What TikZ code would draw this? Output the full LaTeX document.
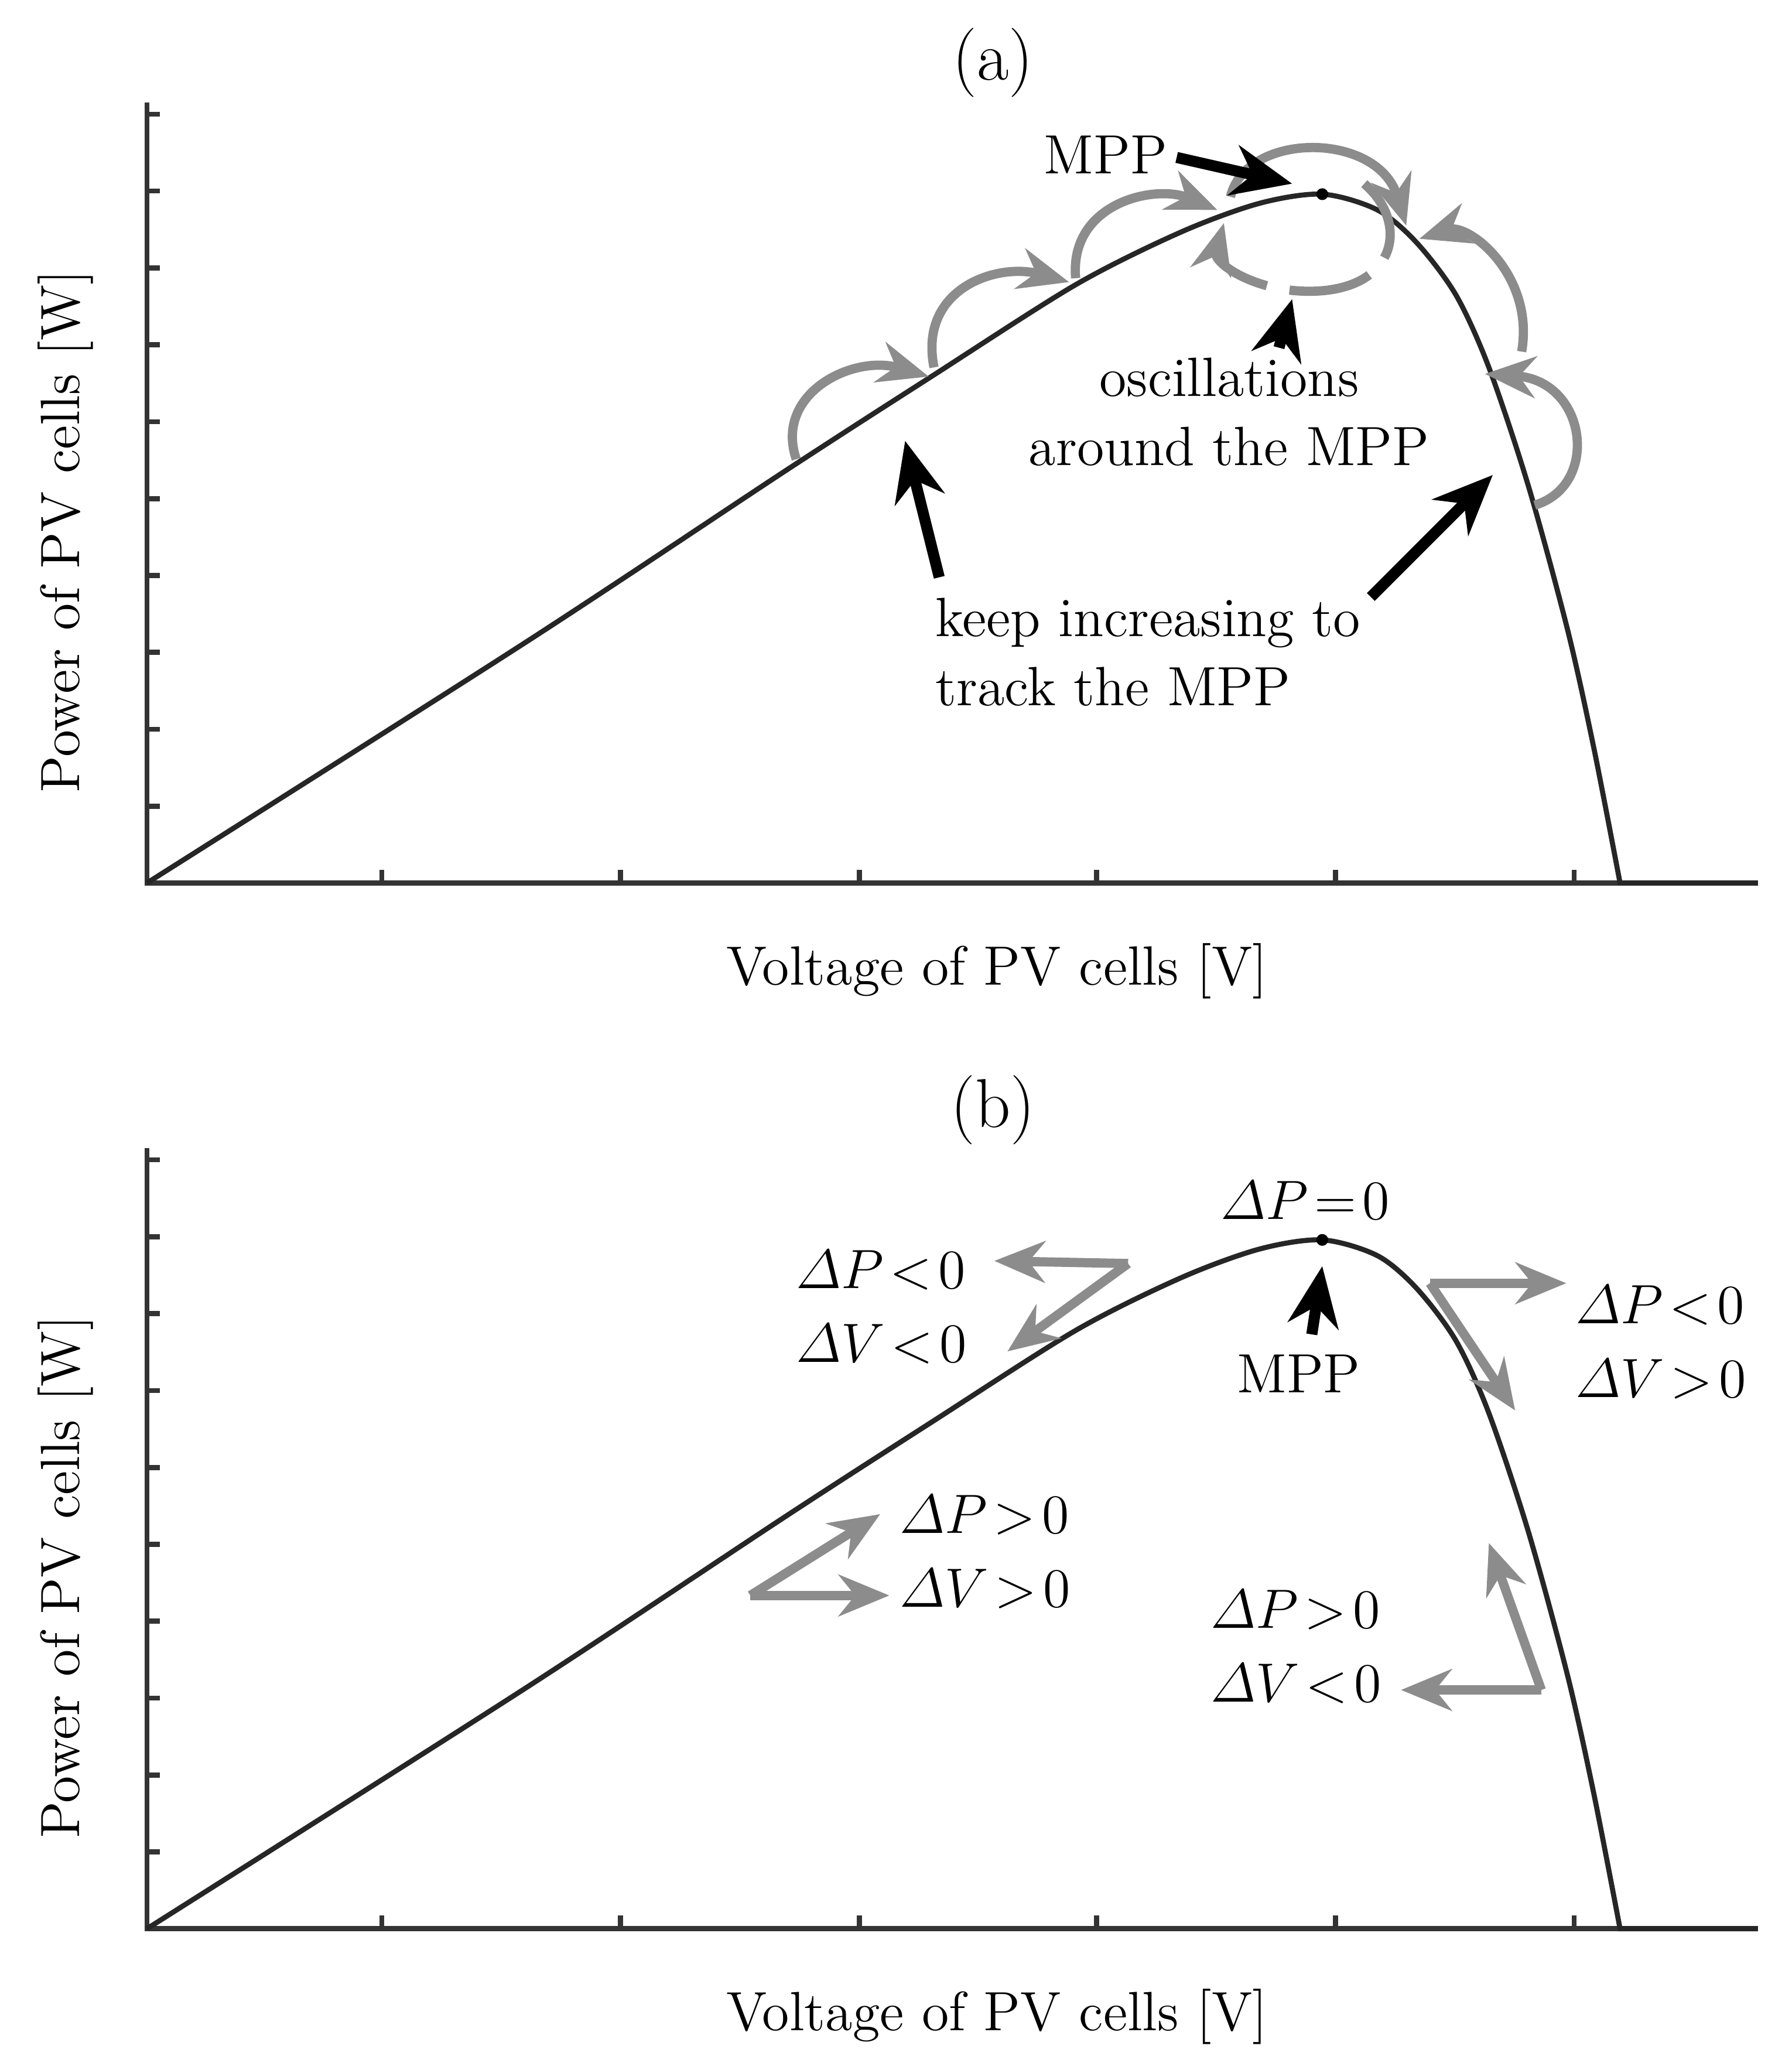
\documentclass[tikz,border=0pt]{standalone}
\usepackage{amsmath}
\usetikzlibrary{arrows.meta}
\begin{document}
\begin{tikzpicture}[x=0.01cm,y=-0.01cm,
  lbl/.style={font=\fontsize{12}{15}\selectfont,inner sep=0pt},
  ttl/.style={font=\fontsize{15}{18}\selectfont,inner sep=0pt},
  ax/.style={line width=1.1pt,gray!40!black},
  crv/.style={line width=1.1pt,black!85},
  garr/.style={line width=2pt,black!45,-{Stealth[length=11pt,width=9pt]}},
  barr/.style={line width=2.4pt,black,-{Stealth[length=13pt,width=11pt]}}]
\useasboundingbox (0,0) rectangle (1366,1567);
\foreach \dy in {0,797}{
 \begin{scope}[yshift=-\dy*0.01cm]
  \draw[ax] (112,78) -- (112,673) -- (1340,673);
  \foreach \t in {87,145.6,204.2,262.8,321.4,380,438.6,497.2,555.8,614.4} \draw[ax] (112,\t) -- (122,\t);
  \foreach \t in {291,473,655,836,1018,1200} \draw[ax] (\t,673) -- (\t,663);
  \draw[crv] plot[smooth,tension=0.5] coordinates {(112,673) (400,490) (600,358) (710,287) (820,217) (900,177) (960,155) (1008,148) (1050,160) (1080,185) (1110,225) (1135,280) (1165,370) (1195,480) (1215,570) (1235,673)} -- (1340,673);
  \fill (1008,148) circle (4.5);
  \node[lbl,rotate=90] (yl\dy) at (50,405) {Power of PV cells [W]};
  \node[lbl] (xl\dy) at (760,740) {Voltage of PV cells [V]};
 \end{scope}}
\node[ttl] (ta) at (757,48) {(a)};
\node[ttl] (tb) at (757,846) {(b)};
% (a) hops
\draw[garr] (607,350) .. controls (590,300) and (650,270) .. (708,287);
\draw[garr] (712,280) .. controls (700,220) and (760,200) .. (815,215);
\draw[garr] (820,212) .. controls (815,155) and (880,140) .. (928,160);
\draw[garr] (938,150) .. controls (950,100) and (1050,100) .. (1072,172);
\draw[garr] (1160,268) .. controls (1170,210) and (1120,170) .. (1082,182);
\draw[garr] (1170,385) .. controls (1220,370) and (1210,290) .. (1132,285);
\draw[garr,dash pattern=on 18pt off 5pt] (1040,140) .. controls (1075,170) and (1065,222) .. (998,222) .. controls (955,222) and (925,200) .. (933,170);
\node[lbl] (mppa) at (843,118) {MPP};
\draw[barr] (897,120) -- (985,140);
\node[lbl,align=center] (osc) at (937,314) {oscillations\\around the MPP};
\draw[barr] (975,265) -- (985,228);
\node[lbl,align=left] (keep) at (875,497) {keep increasing to\\track the MPP};
\draw[barr] (716,440) -- (690,336);
\draw[barr] (1045,455) -- (1138,362);
% (b)
\node[lbl] (dp0) at (995,915) {$\varDelta P\!=\!0$};
\node[lbl] (mppb) at (990,1047) {MPP};
\draw[barr] (1000,1017) -- (1008,965);
\coordinate (c1) at (860,963);
\draw[garr] (c1) -- (758,961);
\draw[garr] (c1) -- (768,1030);
\node[lbl,align=left] (t1) at (672,996) {$\varDelta P\!<\!0$\\[1pt]$\varDelta V\!<\!0$};
\coordinate (c2) at (1090,978);
\draw[garr] (c2) -- (1194,978);
\draw[garr] (c2) -- (1155,1075);
\node[lbl,align=left] (t2) at (1266,1023) {$\varDelta P\!<\!0$\\[1pt]$\varDelta V\!>\!0$};
\coordinate (c3) at (572,1216);
\draw[garr] (c3) -- (671,1154);
\draw[garr] (c3) -- (678,1216);
\node[lbl,align=left] (t3) at (751,1183) {$\varDelta P\!>\!0$\\[1pt]$\varDelta V\!>\!0$};
\coordinate (c4) at (1175,1288);
\draw[garr] (c4) -- (1135,1176);
\draw[garr] (c4) -- (1068,1288);
\node[lbl,align=left] (t4) at (988,1255) {$\varDelta P\!>\!0$\\[1pt]$\varDelta V\!<\!0$};
\end{tikzpicture}
\end{document}
